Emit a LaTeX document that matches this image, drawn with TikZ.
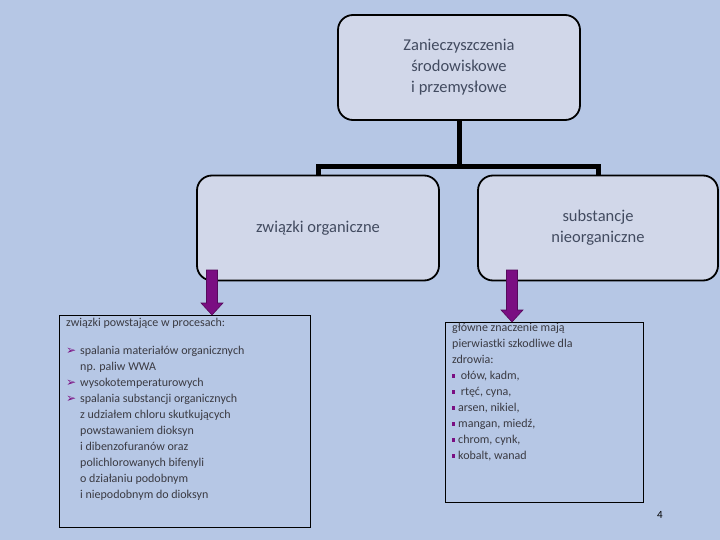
\documentclass[tikz,border=0pt]{standalone}
\usepackage{fontspec}
\setmainfont{Carlito}
\newfontfamily\symfont{DejaVu Sans}
\usepackage{tikz}
\usetikzlibrary{arrows.meta, calc}

\definecolor{slidebg}{HTML}{B6C7E5}
\definecolor{boxfill}{HTML}{D1D7E9}
\definecolor{boxtext}{HTML}{424B60}
\definecolor{listtext}{HTML}{3A3A42}
\definecolor{arrowpurple}{HTML}{7A0E82}

\tikzset{
    catbox/.style={draw=black, line width=1.8pt, fill=boxfill, rounded corners=15pt,
        minimum width=242pt, minimum height=105pt, align=center, text=boxtext,
        font=\fontsize{16.5}{21}\selectfont},
    treeline/.style={line width=5pt},
    listbox/.style={draw=black, line width=0.8pt, anchor=north west},
    listtxt/.style={anchor=north west, align=left, text=listtext, inner sep=0pt,
        font=\fontsize{12}{16}\selectfont},
    downarrow/.style={draw=arrowpurple!70!black, line width=0.6pt, fill=arrowpurple}
}
\newcommand{\arrbullet}{\makebox[14pt][l]{\textcolor{arrowpurple}{\symfont ➢}}}
\newcommand{\sqbullet}{\makebox[6pt][l]{\textcolor{arrowpurple}{\rule[2pt]{3pt}{4pt}}}}

\begin{document}
\begin{tikzpicture}[x=1pt, y=-1pt]
    % slide background
    \fill[slidebg] (0,0) rectangle (720,540);
    \useasboundingbox (0,0) rectangle (720,540);

    % the three category boxes
    \node[catbox] (top) at (459,67.5) {Zanieczyszczenia\\ środowiskowe\\ i przemysłowe};
    \node[catbox] (organic) at (318,228) {związki organiczne};
    \node[catbox, minimum width=240pt] (inorganic) at (598,228) {substancje\\ nieorganiczne};

    % tree connectors
    \coordinate (fork) at ($(top.south)+(0,46)$);
    \draw[treeline] (top.south) -- (fork);
    \draw[treeline] (fork) -| (organic.north);
    \draw[treeline] (fork) -| (inorganic.north);

    % text boxes below
    \node[listbox, minimum width=251pt, minimum height=212pt] (orglist) at (59,315) {};
    \node[listbox, minimum width=198pt, minimum height=180pt] (inorglist) at (445,322) {};

    % purple block arrows
    \draw[downarrow] (206.5,270) -- (217.5,270) -- (217.5,303) -- (223,303) -- (212,315)
        -- (201,303) -- (206.5,303) -- cycle;
    \draw[downarrow] (506.5,270) -- (517.5,270) -- (517.5,310) -- (523,310) -- (512,322)
        -- (501,310) -- (506.5,310) -- cycle;

    % left list
    \node[listtxt] (orgtitle) at (66,318) {związki powstające w procesach:};
    \node[listtxt] (orgitems) at (66,346) {%
        \arrbullet spalania materiałów organicznych\\
        \hspace*{14pt}np. paliw WWA\\
        \arrbullet wysokotemperaturowych\\
        \arrbullet spalania substancji organicznych\\
        \hspace*{14pt}z udziałem chloru skutkujących\\
        \hspace*{14pt}powstawaniem dioksyn\\
        \hspace*{14pt}i dibenzofuranów oraz\\
        \hspace*{14pt}polichlorowanych bifenyli\\
        \hspace*{14pt}o działaniu podobnym\\
        \hspace*{14pt}i niepodobnym do dioksyn};

    % right list
    \node[listtxt] (inorgitems) at (452,323) {%
        główne znaczenie mają\\
        pierwiastki szkodliwe dla\\
        zdrowia:\\
        \sqbullet\ ołów, kadm,\\
        \sqbullet\ rtęć, cyna,\\
        \sqbullet arsen, nikiel,\\
        \sqbullet mangan, miedź,\\
        \sqbullet chrom, cynk,\\
        \sqbullet kobalt, wanad};

    % slide number
    \node[font=\fontsize{11}{13}\selectfont] (pagenum) at (660,515) {4};
\end{tikzpicture}
\end{document}
